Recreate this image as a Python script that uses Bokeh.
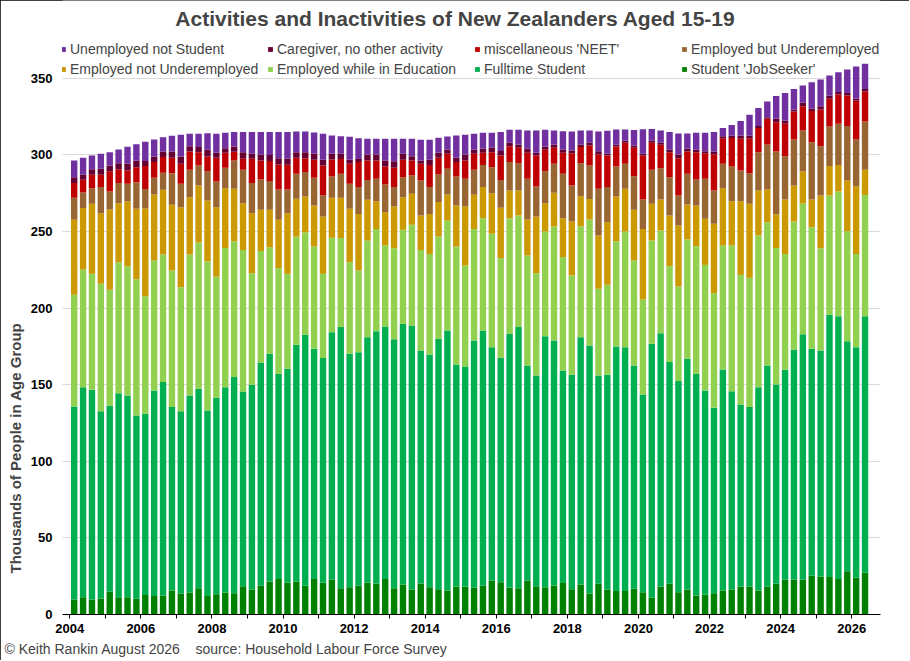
from math import pi

from bokeh.embed import file_html
from bokeh.models import ColumnDataSource, FixedTicker, Label, Legend, LegendItem, Range1d, Title
from bokeh.plotting import figure
from bokeh.resources import INLINE

# quarters 2004 Q1 .. 2026 Q2, thousands of people aged 15-19
quarters = [(2004 + i // 4, i % 4 + 1) for i in range(90)]

jobseeker = [
    9.8, 11.3, 9.8, 10.4, 14.8, 11.3, 11.3, 10.2, 12.8, 12.0,
    12.4, 15.7, 13.7, 14.4, 17.2, 12.0, 13.3, 14.4, 13.9, 18.5,
    16.3, 18.7, 21.5, 23.1, 20.7, 21.5, 18.7, 23.1, 20.7, 22.8,
    17.2, 17.8, 18.7, 20.7, 20.2, 23.1, 17.2, 19.6, 16.3, 20.2,
    17.8, 16.5, 15.7, 18.3, 18.3, 17.4, 18.7, 22.2, 21.1, 17.4,
    17.2, 22.2, 18.5, 17.8, 18.9, 20.5, 16.5, 19.6, 13.7, 20.0,
    16.4, 15.3, 15.3, 16.8, 14.6, 10.9, 18.3, 20.0, 14.6, 16.4,
    12.4, 12.9, 13.9, 15.7, 16.4, 18.3, 18.3, 15.7, 18.3, 20.0,
    22.7, 22.7, 22.7, 25.3, 24.8, 24.4, 23.1, 28.3, 24.0, 27.4,
]
fulltime = [
    126.0, 137.1, 136.9, 122.3, 121.7, 133.2, 131.7, 119.7, 118.2, 134.2,
    139.3, 119.7, 119.0, 128.6, 130.1, 121.2, 128.2, 134.0, 141.1, 127.1,
    133.7, 145.6, 148.7, 134.0, 139.7, 154.6, 163.9, 150.4, 146.7, 161.5,
    170.4, 152.4, 152.5, 160.3, 164.7, 164.9, 162.5, 170.1, 172.3, 152.1,
    151.9, 163.4, 169.7, 144.9, 143.6, 161.5, 166.7, 152.3, 146.4, 165.8,
    170.4, 140.3, 137.5, 163.9, 160.0, 138.8, 139.9, 161.4, 161.9, 136.0,
    140.1, 159.7, 159.2, 145.8, 129.0, 165.8, 165.3, 144.8, 137.8, 150.5,
    144.7, 133.4, 121.1, 144.3, 129.4, 118.8, 117.1, 132.7, 144.3, 130.2,
    137.1, 150.3, 160.3, 148.1, 147.5, 171.2, 171.6, 150.1, 150.5, 167.3,
]
emp_in_edu = [
    72.9, 76.8, 75.7, 83.2, 75.5, 85.5, 84.4, 89.0, 76.8, 84.9,
    83.3, 89.2, 81.0, 92.0, 95.6, 97.3, 79.2, 90.8, 88.7, 92.3,
    72.8, 72.9, 69.6, 69.0, 62.0, 70.7, 67.0, 66.7, 55.0, 61.6,
    58.1, 59.8, 53.4, 63.1, 66.8, 52.9, 59.4, 61.4, 65.8, 65.7,
    65.7, 66.8, 71.8, 77.0, 65.9, 72.8, 73.3, 74.0, 65.1, 75.5,
    72.9, 71.8, 66.8, 68.3, 74.4, 74.0, 64.9, 72.5, 82.2, 56.6,
    58.7, 68.7, 75.5, 68.5, 62.0, 67.4, 67.1, 62.6, 61.7, 77.9,
    83.3, 81.9, 74.8, 80.9, 95.1, 84.6, 84.4, 99.0, 93.5, 89.1,
    75.6, 83.5, 85.3, 79.4, 66.8, 77.9, 81.4, 71.8, 60.9, 79.2,
]
emp_not_under = [
    49.0, 40.1, 45.7, 46.1, 52.4, 38.5, 42.2, 45.9, 57.3, 43.1,
    42.2, 42.8, 52.2, 37.4, 37.2, 39.8, 45.2, 39.1, 34.2, 30.6,
    39.2, 27.0, 24.4, 31.6, 39.6, 24.6, 23.3, 26.8, 37.4, 26.1,
    26.3, 34.8, 36.9, 26.6, 18.1, 21.7, 27.2, 21.3, 20.2, 22.5,
    26.1, 22.5, 17.0, 26.8, 38.5, 22.3, 20.3, 26.5, 32.9, 18.1,
    16.3, 23.5, 37.0, 18.5, 22.0, 25.4, 35.2, 19.6, 13.5, 34.8,
    40.9, 29.4, 27.9, 33.1, 46.1, 24.0, 20.2, 33.1, 39.8, 22.8,
    26.6, 30.1, 45.2, 37.4, 28.9, 48.1, 48.3, 29.4, 21.3, 22.0,
    35.5, 23.5, 20.9, 18.1, 34.4, 19.2, 17.4, 33.1, 44.2, 16.4,
]
emp_under = [
    14.3, 10.2, 10.2, 17.0, 11.7, 13.1, 11.6, 17.4, 12.6, 10.9,
    11.1, 20.7, 15.3, 17.9, 13.0, 19.1, 16.8, 13.3, 18.5, 21.8,
    19.6, 19.8, 18.7, 19.8, 15.5, 16.3, 15.9, 18.1, 13.7, 13.9,
    15.7, 16.3, 17.5, 13.0, 14.6, 18.1, 12.7, 13.1, 12.0, 22.8,
    17.5, 18.0, 16.7, 18.9, 18.1, 16.3, 14.5, 17.0, 18.2, 18.5,
    17.8, 26.6, 19.6, 20.9, 18.9, 29.0, 23.5, 21.5, 21.8, 30.5,
    22.9, 19.3, 16.3, 21.9, 19.2, 22.2, 20.4, 25.0, 19.6, 20.1,
    16.9, 26.1, 21.8, 15.9, 22.6, 20.0, 20.0, 25.0, 29.4, 40.9,
    28.3, 30.1, 26.7, 37.4, 32.2, 25.8, 26.8, 35.5, 30.5, 31.5,
]
neet = [
    9.6, 8.3, 8.7, 8.0, 13.3, 9.1, 8.7, 9.8, 15.0, 10.2,
    10.3, 10.0, 13.0, 12.0, 8.7, 9.6, 15.4, 9.8, 5.6, 7.2,
    15.9, 12.4, 13.1, 16.3, 16.1, 10.4, 9.1, 11.7, 19.6, 11.1,
    9.7, 13.1, 16.3, 12.7, 12.0, 11.7, 12.6, 11.3, 9.8, 10.9,
    14.5, 10.9, 9.8, 9.4, 12.0, 10.4, 7.9, 9.8, 15.9, 10.4,
    10.0, 17.0, 20.2, 13.9, 10.4, 13.7, 21.1, 10.5, 13.1, 22.4,
    20.6, 13.1, 13.7, 18.5, 28.7, 17.6, 15.3, 16.3, 24.4, 14.5,
    17.9, 16.7, 23.5, 16.7, 18.7, 20.7, 22.8, 15.7, 16.8, 19.2,
    21.1, 18.2, 15.9, 20.3, 23.9, 18.1, 19.1, 20.0, 25.2, 19.6,
]
caregiver = [
    3.9, 3.2, 3.7, 3.9, 3.7, 3.9, 4.3, 4.4, 3.3, 3.7,
    3.7, 4.2, 4.8, 3.4, 3.3, 4.4, 3.3, 3.0, 3.5, 4.3,
    3.2, 3.7, 3.9, 4.1, 3.9, 3.7, 3.9, 3.9, 3.7, 3.7,
    3.3, 2.6, 2.1, 3.9, 3.9, 4.0, 4.3, 3.9, 2.8, 2.2,
    3.3, 3.3, 2.6, 2.8, 3.9, 2.6, 2.6, 2.8, 2.9, 2.2,
    2.2, 2.6, 1.8, 2.2, 2.2, 1.9, 1.8, 1.7, 1.7, 2.1,
    1.1, 1.1, 1.3, 1.6, 1.1, 1.5, 1.3, 1.5, 2.4, 1.8,
    1.5, 1.3, 1.9, 1.3, 1.6, 2.2, 1.8, 1.3, 1.0, 2.2,
    2.2, 1.3, 2.2, 1.5, 2.2, 2.2, 1.6, 1.7, 1.3, 1.7,
]
unemployed = [
    10.9, 11.1, 9.0, 9.8, 8.7, 9.0, 11.1, 10.6, 12.6, 11.1,
    9.3, 10.2, 14.1, 8.1, 8.7, 10.8, 12.4, 10.0, 9.4, 13.1,
    14.2, 14.8, 15.0, 17.0, 17.4, 13.5, 13.5, 14.0, 17.0, 12.0,
    11.5, 15.0, 13.5, 10.2, 10.2, 14.1, 14.6, 9.8, 11.3, 13.5,
    13.1, 9.8, 8.7, 14.6, 12.8, 10.5, 10.4, 9.8, 12.4, 8.5,
    9.6, 11.9, 14.5, 10.9, 9.1, 12.2, 12.4, 9.1, 8.0, 12.9,
    15.0, 10.0, 7.4, 10.0, 16.1, 7.6, 8.0, 11.6, 13.7, 10.0,
    11.1, 12.0, 12.7, 5.3, 6.9, 9.5, 13.5, 11.9, 10.3, 14.8,
    18.0, 13.5, 11.3, 17.4, 17.4, 13.0, 13.0, 15.3, 21.1, 16.4,
]

# bottom to top of each stacked bar
series = ["jobseeker", "fulltime", "emp_in_edu", "emp_not_under",
          "emp_under", "neet", "caregiver", "unemployed"]
labels = ["Student 'JobSeeker'", "Fulltime Student", "Employed while in Education",
          "Employed not Underemployed", "Employed but Underemployed",
          "miscellaneous 'NEET'", "Caregiver, no other activity", "Unemployed not Student"]
colors = ["#008000", "#00B050", "#92D050", "#CC9900",
          "#996633", "#C00000", "#660033", "#7030A0"]

FONT = "Liberation Sans"

source = ColumnDataSource(data=dict(
    x=[yr + (q - 0.5) / 4 for yr, q in quarters],
    jobseeker=jobseeker, fulltime=fulltime, emp_in_edu=emp_in_edu,
    emp_not_under=emp_not_under, emp_under=emp_under, neet=neet,
    caregiver=caregiver, unemployed=unemployed,
))

# frame is a little wider than the bars so both legend edges stay inside it
p = figure(width=909, height=660, title=None,
           x_range=Range1d(2003.796, 2026.81), y_range=Range1d(0, 400.8),
           output_backend="svg", toolbar_location=None,
           min_border_left=56, min_border_right=29,
           min_border_top=0, min_border_bottom=46)
p.outline_line_color = None
p.styles = {"outline": "1px solid black", "outline-offset": "-1px"}

bars = p.vbar_stack(series, x="x", width=0.18, fill_color=colors,
                    line_color=None, source=source)

# legend reads top of the stack first, four to a row
legend = Legend(items=[LegendItem(label=labels[k], renderers=[bars[k]])
                       for k in range(7, -1, -1)],
                orientation="horizontal", ncols=4, location=(-2, 536),
                label_text_font=FONT, label_text_font_size="14px",
                glyph_width=6, glyph_height=6, label_standoff=4,
                label_width=195, label_height=18, spacing=2, padding=0, margin=0,
                background_fill_alpha=0, border_line_color=None)
p.add_layout(legend)

p.xaxis.ticker = FixedTicker(ticks=list(range(2004, 2027)))
p.xaxis.major_label_overrides = {yr: "" for yr in range(2005, 2027, 2)}
p.xaxis.major_tick_out = 4
p.xaxis.major_tick_in = 0
p.xaxis.minor_tick_line_color = None
p.xaxis.axis_line_color = "black"
p.xaxis.major_tick_line_color = "black"
p.xaxis.major_label_standoff = 5

p.yaxis.ticker = FixedTicker(ticks=list(range(0, 351, 50)))
p.yaxis.axis_line_color = None
p.yaxis.major_tick_line_color = None
p.yaxis.minor_tick_line_color = None
p.yaxis.major_label_standoff = 4

for ax in (p.xaxis, p.yaxis):
    ax.major_label_text_font = FONT
    ax.major_label_text_font_style = "bold"
    ax.major_label_text_font_size = "13px"
    ax.major_label_text_color = "black"

p.xgrid.grid_line_color = None
p.ygrid.grid_line_color = "#D9D9D9"

p.add_layout(Label(x=2014.85, y=389.0,
                   text="Activities and Inactivities of New Zealanders Aged 15-19",
                   text_align="center", text_baseline="middle", text_font=FONT,
                   text_font_style="bold", text_font_size="21px"))

p.add_layout(Title(text="Thousands of People in Age Group", align="left",
                   offset=41, standoff=8, text_font=FONT, text_font_style="bold",
                   text_font_size="15px"), "left")
p.add_layout(Title(text="\u00a9 Keith Rankin August 2026\u00a0\u00a0\u00a0\u00a0"
                        "source: Household Labour Force Survey",
                   align="left", offset=-58, standoff=7, text_font=FONT,
                   text_font_style="normal", text_font_size="14px"), "below")

open("out.html", "w", encoding="utf-8").write(file_html(p, INLINE))
